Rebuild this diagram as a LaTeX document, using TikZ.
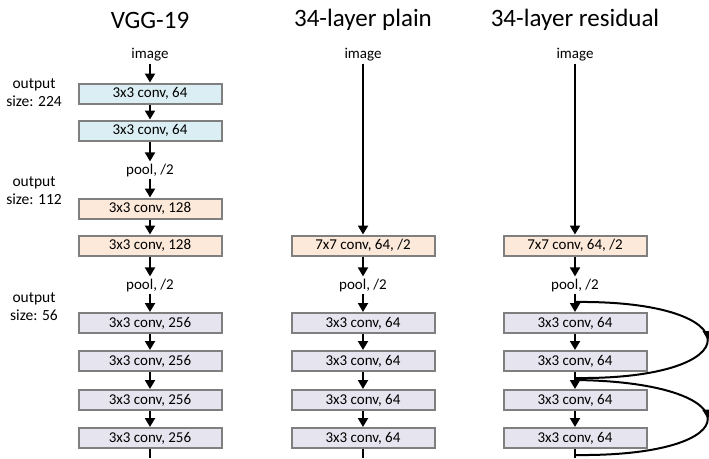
\documentclass[tikz,border=0pt]{standalone}
\usepackage{fontspec}
\setmainfont{Carlito}
\usetikzlibrary{arrows.meta,decorations.markings}

\definecolor{convblue}{HTML}{DAEEF3}
\definecolor{convpeach}{HTML}{FDE9D9}
\definecolor{convlav}{HTML}{E6E4EE}
\definecolor{convedge}{HTML}{7F7F7F}

\tikzset{
	layer/.style={draw=convedge, line width=2pt, minimum width=143pt, minimum height=20pt, inner sep=0pt, font=\fontsize{15}{17}\selectfont},
	l64/.style={layer, fill=convblue},
	l128/.style={layer, fill=convpeach},
	l256/.style={layer, fill=convlav},
	note/.style={font=\fontsize{15}{17}\selectfont, inner sep=2pt},
	side/.style={font=\fontsize{15.5}{18}\selectfont, align=center},
	head/.style={font=\fontsize{25}{28}\selectfont},
	flow/.style={line width=2pt, -{Triangle[width=10pt,length=9pt]}},
	plain/.style={line width=2pt},
	skip/.style={line width=2pt, decoration={markings, mark=at position 0.5 with {\arrow{Triangle[width=10pt,length=9pt]}}}, postaction={decorate}}
}

\begin{document}
\begin{tikzpicture}[x=1pt, y=-1pt]
	\useasboundingbox (0,0) rectangle (709,458);

	% column titles
	\node[head] (tv) at (150,20) {VGG-19};
	\node[head] (tp) at (363,20) {34-layer plain};
	\node[head] (tr) at (575,20) {34-layer residual};

	% output sizes
	\node[side] (o224) at (34,93) {output\\size: 224};
	\node[side] (o112) at (34,191) {output\\size: 112};
	\node[side] (o56) at (34,307) {output\\size: 56};

	% VGG-19
	\node[note] (vimg) at (150,55) {image};
	\node[l64] (v1) at (150,93.5) {3x3 conv, 64};
	\node[l64] (v2) at (150,130.5) {3x3 conv, 64};
	\node[note] (vp1) at (150,170) {pool, /2};
	\node[l128] (v3) at (150,208.5) {3x3 conv, 128};
	\node[l128] (v4) at (150,245.5) {3x3 conv, 128};
	\node[note] (vp2) at (150,285) {pool, /2};
	\node[l256] (v5) at (150,323) {3x3 conv, 256};
	\node[l256] (v6) at (150,361) {3x3 conv, 256};
	\node[l256] (v7) at (150,400) {3x3 conv, 256};
	\node[l256] (v8) at (150,438) {3x3 conv, 256};
	\coordinate (vend) at (150,458);

	\draw[flow] (vimg) -- (v1);
	\draw[flow] (v1) -- (v2);
	\draw[flow] (v2) -- (vp1);
	\draw[flow] (vp1) -- (v3);
	\draw[flow] (v3) -- (v4);
	\draw[flow] (v4) -- (vp2);
	\draw[flow] (vp2) -- (v5);
	\draw[flow] (v5) -- (v6);
	\draw[flow] (v6) -- (v7);
	\draw[flow] (v7) -- (v8);
	\draw[plain] (v8) -- (vend);

	% 34-layer plain
	\node[note] (pimg) at (363,55) {image};
	\node[l128] (p1) at (363,245.5) {7x7 conv, 64, /2};
	\node[note] (pp) at (363,285) {pool, /2};
	\node[l256] (p2) at (363,323) {3x3 conv, 64};
	\node[l256] (p3) at (363,361) {3x3 conv, 64};
	\node[l256] (p4) at (363,400) {3x3 conv, 64};
	\node[l256] (p5) at (363,438) {3x3 conv, 64};
	\coordinate (pend) at (363,458);

	\draw[flow] (pimg) -- (p1);
	\draw[flow] (p1) -- (pp);
	\draw[flow] (pp) -- (p2);
	\draw[flow] (p2) -- (p3);
	\draw[flow] (p3) -- (p4);
	\draw[flow] (p4) -- (p5);
	\draw[plain] (p5) -- (pend);

	% 34-layer residual
	\node[note] (rimg) at (575,55) {image};
	\node[l128] (r1) at (575,245.5) {7x7 conv, 64, /2};
	\node[note] (rp) at (575,285) {pool, /2};
	\node[l256] (r2) at (575,323) {3x3 conv, 64};
	\node[l256] (r3) at (575,361) {3x3 conv, 64};
	\node[l256] (r4) at (575,400) {3x3 conv, 64};
	\node[l256] (r5) at (575,438) {3x3 conv, 64};
	\coordinate (rend) at (575,458);

	\draw[flow] (rimg) -- (r1);
	\draw[flow] (r1) -- (rp);
	\draw[flow] (rp) -- (r2);
	\draw[flow] (r2) -- (r3);
	\draw[flow] (r3) -- (r4);
	\draw[flow] (r4) -- (r5);
	\draw[plain] (r5) -- (rend);

	% shortcut connections
	\coordinate (s1) at (575,302);
	\coordinate (s2) at (575,378);
	\coordinate (s3) at (575,380);
	\coordinate (s4) at (575,455);
	\draw[skip] (s1) .. controls (752,300) and (752,380) .. (s2);
	\draw[skip] (s3) .. controls (752,382) and (752,457) .. (s4);
\end{tikzpicture}
\end{document}
